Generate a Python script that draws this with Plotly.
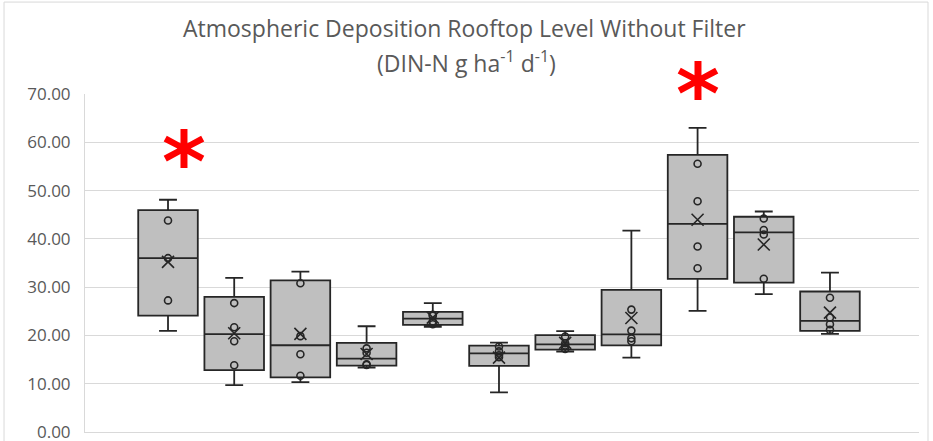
import numpy as np
import plotly.graph_objects as go

# Daily DIN-N deposition samples per rooftop site (g ha-1 d-1)
b1 = [20.95, 27.25, 36.0, 43.8, 48.1]
b2 = [9.72, 13.83, 18.8, 21.7, 26.7, 31.91]
b3 = [10.34, 11.64, 16.09, 19.85, 30.8, 33.2]
b4 = [13.35, 13.9, 14.0, 16.4, 17.32, 21.9]
b5 = [21.8, 22.3, 22.9, 24.1, 24.25, 26.7]
b6 = [8.2, 15.5, 15.9, 16.7, 17.7, 18.5]
b7 = [16.64, 17.19, 17.9, 18.38, 19.77, 20.88]
b8 = [15.4, 18.79, 19.4, 21.0, 25.35, 41.7]
b9 = [25.07, 33.9, 38.42, 47.8, 55.54, 63.0]
b10 = [28.56, 31.75, 40.89, 41.83, 44.22, 45.67]
b11 = [20.34, 21.15, 22.3, 23.7, 27.8, 33.0]
samples = [b1, b2, b3, b4, b5, b6, b7, b8, b9, b10, b11]

# significance markers: x position (box index) and value level
star_x = [0.24, 8.0]
star_y = [58.2, 72.2]

y_max = 70
y_ticks = [0, 10, 20, 30, 40, 50, 60, 70]

TEXT = "#595959"
GRID = "#d9d9d9"
EDGE = "#262626"


def quartile_exc(vals, p):
    s = np.sort(np.asarray(vals, dtype=float))
    n = len(s)
    pos = p * (n + 1)
    i = int(np.floor(pos))
    frac = pos - i
    i = min(max(i, 1), n)
    if i >= n:
        return s[-1]
    return s[i - 1] + frac * (s[i] - s[i - 1])


fig = go.Figure()

for k, vals in enumerate(samples):
    s = np.sort(vals)
    fig.add_trace(go.Box(
        x=[k],
        q1=[quartile_exc(s, 0.25)],
        median=[float(np.median(s))],
        q3=[quartile_exc(s, 0.75)],
        lowerfence=[s[0]],
        upperfence=[s[-1]],
        width=0.9,
        whiskerwidth=0.3,
        fillcolor="#bfbfbf",
        line=dict(color=EDGE, width=1.8),
        boxpoints=False,
        showlegend=False,
        hoverinfo="skip",
    ))
    inner = s[1:-1]
    fig.add_trace(go.Scatter(
        x=[k] * len(inner), y=inner, mode="markers",
        marker=dict(symbol="circle-open", size=7, color=EDGE,
                    line=dict(width=1.6, color=EDGE)),
        showlegend=False, hoverinfo="skip",
    ))
    fig.add_trace(go.Scatter(
        x=[k], y=[float(np.mean(s))], mode="markers",
        marker=dict(symbol="x-thin-open", size=12, color=EDGE,
                    line=dict(width=1.6, color=EDGE)),
        showlegend=False, hoverinfo="skip",
    ))

for sx, sy in zip(star_x, star_y):
    fig.add_annotation(x=sx, y=sy / y_max, xref="x", yref="y domain",
                       text="<b>*</b>", showarrow=False, yanchor="middle",
                       yshift=-11,
                       font=dict(family="DejaVu Sans", size=84, color="#ff0000"))

# two-line chart title
fig.add_annotation(x=0.4556, y=1.195, xref="paper", yref="paper",
                   text="Atmospheric Deposition Rooftop Level Without Filter",
                   showarrow=False, yanchor="middle",
                   font=dict(family="Open Sans", size=23, color=TEXT))
fig.add_annotation(x=0.457, y=1.0947, xref="paper", yref="paper",
                   text="(DIN-N g ha<sup>-1</sup> d<sup>-1</sup>)",
                   showarrow=False, yanchor="middle",
                   font=dict(family="Open Sans", size=23, color=TEXT))

# chart area border
fig.add_shape(type="rect", xref="paper", yref="paper",
              x0=-0.0971, x1=1.0108, y0=-0.05, y1=1.272,
              line=dict(color=GRID, width=1), fillcolor="rgba(0,0,0,0)", layer="below")

fig.update_layout(
    width=933, height=441,
    margin=dict(l=85, r=14, t=94, b=9, autoexpand=False),
    paper_bgcolor="white", plot_bgcolor="white",
    font=dict(family="Open Sans", color=TEXT),
    xaxis=dict(range=[-1.254, 11.345], showticklabels=False, showgrid=False,
               zeroline=False, showline=True, linecolor=GRID, ticks="",
               automargin=False),
    yaxis=dict(range=[0, y_max], tickvals=y_ticks, tickformat=".2f",
               showgrid=True, gridcolor=GRID, gridwidth=1, zeroline=False,
               showline=True, linecolor=GRID, ticks="", automargin=False,
               ticklabelstandoff=10, ticklabeloverflow="allow",
               tickfont=dict(family="Open Sans", size=17, color=TEXT)),
)

fig.write_html("out.html")
